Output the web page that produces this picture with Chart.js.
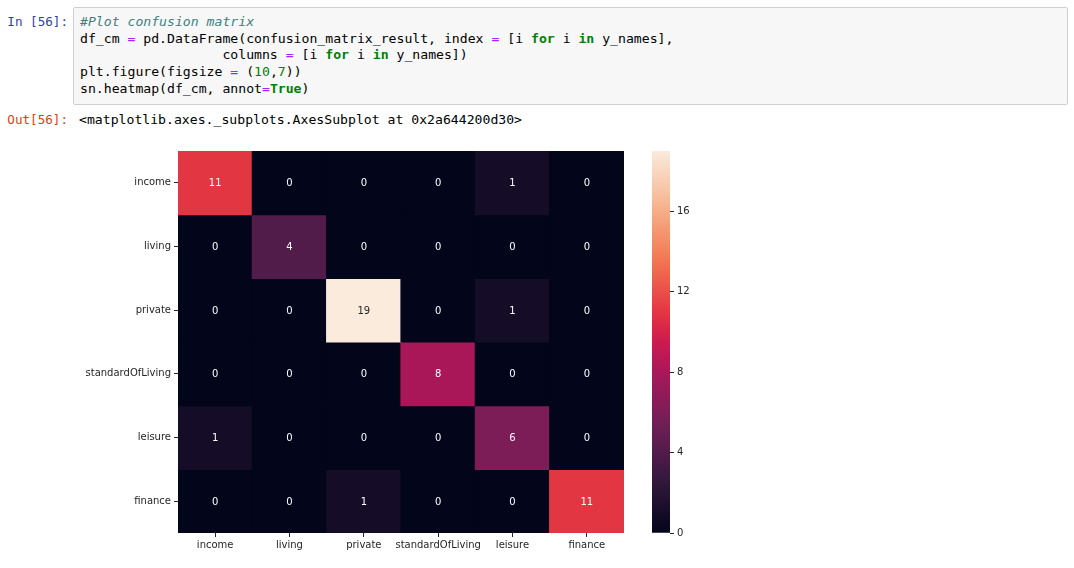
<!DOCTYPE html>
<html>
<head>
<meta charset="utf-8">
<script src="https://cdn.jsdelivr.net/npm/chart.js@4"></script>
<style>
  html, body { margin: 0; padding: 0; background: #fff; width: 1074px; height: 568px; overflow: hidden; position: relative; }
  .prompt { position: absolute; font-family: "DejaVu Sans Mono", monospace; font-size: 12.6px; line-height: 16.7px; text-align: right; width: 68px; left: 0; }
  .in { color: #303F9F; top: 14px; }
  .out { color: #D84315; top: 112px; }
  .cell { position: absolute; left: 73px; top: 7px; width: 993px; height: 96px; border: 1px solid #cfcfcf; background: #f7f7f7; border-radius: 2px; }
  pre { margin: 0; font-family: "DejaVu Sans Mono", monospace; font-size: 13.15px; line-height: 16.7px; color: #000; }
  .code { position: absolute; left: 6px; top: 6px; }
  .cm { color: #408080; font-style: italic; }
  .kw { color: #008000; font-weight: bold; }
  .op { color: #AA22FF; }
  .nb { color: #008000; }
  .outtext { position: absolute; left: 79px; top: 112px; }
  #heat { position: absolute; left: 0; top: 140px; }
  #cbar { position: absolute; left: 640px; top: 140px; }
</style>
</head>
<body>
<div class="prompt in">In&nbsp;[56]:</div>
<div class="cell"><pre class="code"><span class="cm">#Plot confusion matrix</span>
df_cm <span class="op">=</span> pd.DataFrame(confusion_matrix_result, index <span class="op">=</span> [i <span class="kw">for</span> i <span class="kw">in</span> y_names],
                  columns <span class="op">=</span> [i <span class="kw">for</span> i <span class="kw">in</span> y_names])
plt.figure(figsize <span class="op">=</span> (<span class="nb">10</span>,<span class="nb">7</span>))
sn.heatmap(df_cm, annot<span class="op">=</span><span class="kw">True</span>)</pre></div>
<div class="prompt out">Out[56]:</div>
<pre class="outtext">&lt;matplotlib.axes._subplots.AxesSubplot at 0x2a644200d30&gt;</pre>
<canvas id="heat" width="640" height="420"></canvas>
<canvas id="cbar" width="60" height="420"></canvas>
<script>
// ---- data ----
const yNames = ['income', 'living', 'private', 'standardOfLiving', 'leisure', 'finance'];
const incomeRow = [11, 0, 0, 0, 1, 0];
const livingRow = [0, 4, 0, 0, 0, 0];
const privateRow = [0, 0, 19, 0, 1, 0];
const standardOfLivingRow = [0, 0, 0, 8, 0, 0];
const leisureRow = [1, 0, 0, 0, 6, 0];
const financeRow = [0, 0, 1, 0, 0, 11];
const colorbarTicks = [0, 4, 8, 12, 16];
const vMin = 0;
const vMax = 19;

const rows = [incomeRow, livingRow, privateRow, standardOfLivingRow, leisureRow, financeRow];

// rocket-like colormap stops
const cmapStops = [
  [0.000, [3, 5, 26]],
  [0.143, [53, 25, 62]],
  [0.286, [112, 31, 87]],
  [0.429, [173, 23, 89]],
  [0.500, [203, 27, 79]],
  [0.571, [225, 51, 66]],
  [0.714, [243, 118, 81]],
  [0.857, [246, 180, 143]],
  [1.000, [250, 235, 221]]
];
function cmap(t) {
  t = Math.max(0, Math.min(1, t));
  for (let i = 1; i < cmapStops.length; i++) {
    const [t1, c1] = cmapStops[i];
    const [t0, c0] = cmapStops[i - 1];
    if (t <= t1) {
      const f = (t - t0) / (t1 - t0);
      return c0.map((v, k) => Math.round(v + (c1[k] - v) * f));
    }
  }
  return cmapStops[cmapStops.length - 1][1];
}
const rgb = c => `rgb(${c[0]},${c[1]},${c[2]})`;
const colorFor = v => rgb(cmap((v - vMin) / (vMax - vMin)));
const lum = c => (0.2126 * c[0] + 0.7152 * c[1] + 0.0722 * c[2]) / 255;

const tickFont = { family: 'DejaVu Sans', size: 10 };
const tickColor = '#262626';

const annotPlugin = {
  id: 'annot',
  afterDatasetsDraw(chart) {
    const ctx = chart.ctx;
    ctx.save();
    ctx.font = '10px "DejaVu Sans"';
    ctx.textAlign = 'center';
    ctx.textBaseline = 'middle';
    chart.data.datasets.forEach((ds, di) => {
      const meta = chart.getDatasetMeta(di);
      meta.data.forEach((el, ci) => {
        const v = rows[di][ci];
        const c = cmap((v - vMin) / (vMax - vMin));
        ctx.fillStyle = lum(c) > 0.408 ? '#262626' : '#ffffff';
        ctx.fillText(String(v), el.x, (el.y + el.base) / 2 + 1);
      });
    });
    ctx.restore();
  }
};

new Chart(document.getElementById('heat'), {
  type: 'bar',
  data: {
    labels: yNames,
    datasets: rows.map((r, i) => ({
      label: yNames[i],
      data: r.map(() => 1),
      backgroundColor: r.map(colorFor),
      borderWidth: 0,
      inflateAmount: 0.6,
      barPercentage: 1,
      categoryPercentage: 1
    }))
  },
  options: {
    responsive: false,
    animation: false,
    layout: { padding: { left: 0, right: 16, top: 11, bottom: 0 } },
    plugins: { legend: { display: false }, tooltip: { enabled: false } },
    scales: {
      x: {
        stacked: true,
        grid: { display: true, drawOnChartArea: false, offset: false, tickLength: 4, color: tickColor, lineWidth: 1 },
        border: { display: false },
        ticks: { font: tickFont, color: tickColor, padding: 2, maxRotation: 0, autoSkip: false },
        afterFit: s => { s.height = 27; }
      },
      y: {
        stacked: true,
        reverse: true,
        min: 0,
        max: rows.length,
        grid: { display: true, drawOnChartArea: false, tickLength: 4, color: tickColor, lineWidth: 1 },
        border: { display: false },
        afterBuildTicks: s => { s.ticks = yNames.map((_, i) => ({ value: i + 0.5 })); },
        ticks: {
          font: tickFont, color: tickColor, padding: 3, autoSkip: false,
          callback: v => yNames[Math.floor(v)]
        },
        afterFit: s => { s.width = 178; }
      }
    }
  },
  plugins: [annotPlugin]
});

new Chart(document.getElementById('cbar'), {
  type: 'bar',
  data: {
    labels: [''],
    datasets: [{
      data: [[vMin, vMax]],
      borderWidth: 0,
      barPercentage: 1,
      categoryPercentage: 1,
      backgroundColor: (ctx) => {
        const ca = ctx.chart.chartArea;
        if (!ca) return rgb(cmap(0));
        const g = ctx.chart.ctx.createLinearGradient(0, ca.bottom, 0, ca.top);
        for (let i = 0; i <= 40; i++) g.addColorStop(i / 40, rgb(cmap(i / 40)));
        return g;
      }
    }]
  },
  options: {
    responsive: false,
    animation: false,
    layout: { padding: { left: 12, right: 0, top: 11, bottom: 27 } },
    plugins: { legend: { display: false }, tooltip: { enabled: false } },
    scales: {
      x: { display: false },
      y: {
        position: 'right',
        min: vMin,
        max: vMax,
        grid: { display: true, drawOnChartArea: false, tickLength: 4, color: tickColor },
        border: { display: false },
        afterBuildTicks: s => { s.ticks = colorbarTicks.map(v => ({ value: v })); },
        ticks: { font: tickFont, color: tickColor, padding: 3 },
        afterFit: s => { s.width = 30; }
      }
    }
  }
});
</script>
</body>
</html>
